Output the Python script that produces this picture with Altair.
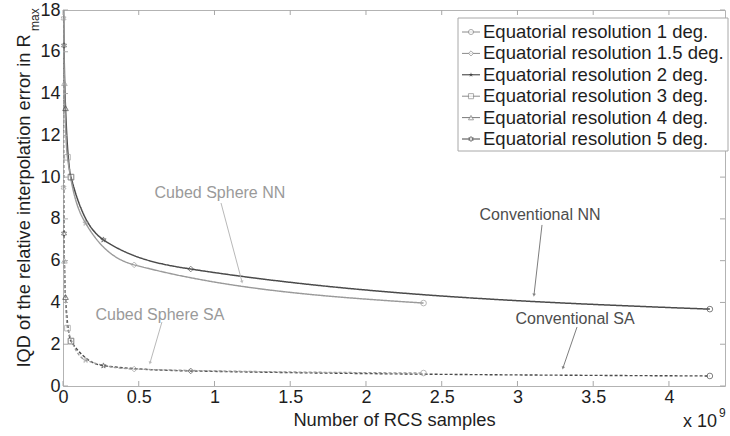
import math
import altair as alt
import pandas as pd

# ---------------- data ----------------
res_labels = ["1", "1.5", "2", "3", "4", "5"]              # equatorial resolution, deg
conv_samples = [4.27, 0.843, 0.267, 0.0527, 0.0167, 0.0068]   # x 10^9
cubed_samples = [2.38, 0.47, 0.149, 0.0294, 0.0093, 0.0038]   # x 10^9
conv_nn = [3.68, 5.60, 7.00, 10.00, 13.30, 16.30]
cubed_nn = [3.97, 5.80, 7.80, 10.95, 14.50, 17.60]
conv_sa = [0.48, 0.72, 0.97, 2.15, 4.26, 7.30]
cubed_sa = [0.62, 0.81, 1.24, 2.77, 6.00, 9.50]

series_names = ["Conventional NN", "Cubed Sphere NN", "Conventional SA", "Cubed Sphere SA"]
# where each curve leaves the top of the frame (y = 18)
top_exit_x = [0.004, 0.003, 0.0015, 0.001]
top_y = 18

x_ticks = [0, 0.5, 1, 1.5, 2, 2.5, 3, 3.5, 4]
y_ticks = [0, 2, 4, 6, 8, 10, 12, 14, 16, 18]

annot_text = ["Conventional NN", "Cubed Sphere NN", "Cubed Sphere SA", "Conventional SA"]
annot_x = [3.149, 1.036, 0.640, 3.380]
annot_y = [8.19, 9.24, 3.40, 3.21]
arrow_x1 = [3.162, 1.043, 0.653, 3.393]
arrow_y1 = [7.71, 8.76, 3.06, 2.82]
arrow_x2 = [3.109, 1.182, 0.574, 3.300]
arrow_y2 = [4.35, 4.98, 1.10, 0.86]

leg_labels = [f"Equatorial resolution {r} deg." for r in res_labels]

# ---------------- styles ----------------
F = "Liberation Sans"
W, H = 662, 376
X_MAX = 4.37
series_colors = ["#4a4a4a", "#9a9a9a", "#4a4a4a", "#9a9a9a"]
series_dash = [[1, 0], [1, 0], [3, 2], [3, 2]]
series_width = [1.5, 1.3, 1.4, 1.3]
annot_colors = ["#4d4d4d", "#9a9a9a", "#9a9a9a", "#4d4d4d"]
arrow_colors = ["#6e6e6e", "#b0b0b0", "#b0b0b0", "#6e6e6e"]

PENTAGRAM = ("M0,-1L0.2245,-0.309L0.951,-0.309L0.363,0.118L0.588,0.809L0,0.382"
             "L-0.588,0.809L-0.363,0.118L-0.951,-0.309L-0.2245,-0.309Z")
HEXAGRAM = ("M0,-1L0.289,-0.5L0.866,-0.5L0.577,0L0.866,0.5L0.289,0.5L0,1L-0.289,0.5"
            "L-0.866,0.5L-0.577,0L-0.866,-0.5L-0.289,-0.5Z")
shape_range = ["circle", "diamond", PENTAGRAM, "square", "triangle-up", HEXAGRAM]
leg_colors = ["#8a8a8a", "#8a8a8a", "#333333", "#8a8a8a", "#7a7a7a", "#444444"]
TXT = "#1e1e1e"

# ---------------- tables ----------------
xs_by_series = [conv_samples, cubed_samples, conv_samples, cubed_samples]
ys_by_series = [conv_nn, cubed_nn, conv_sa, cubed_sa]

pt_rows, line_rows = [], []
for s, xs_, ys_, tx in zip(series_names, xs_by_series, ys_by_series, top_exit_x):
    for r, xv, yv in zip(res_labels, xs_, ys_):
        pt_rows.append({"series": s, "res": r, "x": xv, "y": yv})
        line_rows.append({"series": s, "x": xv, "y": yv})
    line_rows.append({"series": s, "x": tx, "y": top_y})
pt_df = pd.DataFrame(pt_rows)
line_df = pd.DataFrame(line_rows)

xsc = alt.Scale(domain=[0, X_MAX], nice=False, zero=False)
ysc = alt.Scale(domain=[0, 18], nice=False, zero=False)
stroke_sc = alt.Scale(domain=series_names, range=series_colors)

x_axis = alt.Axis(values=x_ticks, labelExpr="'' + datum.value", ticks=False, domain=False,
                  grid=False, labelFont=F, labelFontSize=18, labelColor=TXT,
                  labelPadding=2, labelFlush=False, labelOverlap=False, labelBound=False,
                  title="Number of RCS samples", titleFont=F, titleFontSize=18.3,
                  titleFontWeight="normal", titleColor=TXT,
                  titleBaseline="alphabetic", titleY=39)
y_axis = alt.Axis(values=y_ticks, format="d", ticks=False, domain=False, grid=False,
                  labelFont=F, labelFontSize=18, labelColor=TXT, labelPadding=3,
                  labelOverlap=False, labelBound=False,
                  title="IQD of the relative interpolation error in R", titleFont=F,
                  titleFontSize=18.3, titleFontWeight="normal", titleColor=TXT,
                  titleAngle=270, titleAlign="left", titleBaseline="alphabetic",
                  titleX=-34, titleY=357)


def X(field):
    return alt.X(field, scale=xsc, axis=x_axis)


def Y(field):
    return alt.Y(field, scale=ysc, axis=y_axis)


lines = alt.Chart(line_df).mark_line(interpolate="monotone", clip=True).encode(
    x=X("x:Q"), y=Y("y:Q"),
    stroke=alt.Stroke("series:N", scale=stroke_sc, legend=None),
    strokeDash=alt.StrokeDash("series:N", scale=alt.Scale(domain=series_names, range=series_dash), legend=None),
    strokeWidth=alt.StrokeWidth("series:N", scale=alt.Scale(domain=series_names, range=series_width), legend=None),
)

points = alt.Chart(pt_df).mark_point(filled=False, size=32, strokeWidth=1).encode(
    x=X("x:Q"), y=Y("y:Q"),
    stroke=alt.Stroke("series:N", scale=stroke_sc, legend=None),
    shape=alt.Shape("res:N", scale=alt.Scale(domain=res_labels, range=shape_range), legend=None),
)

TICK_C = "#a8a8a8"
xt = pd.DataFrame({"v": x_ticks})
yt = pd.DataFrame({"v": y_ticks})
tick_layers = [
    alt.Chart(xt).mark_rule(color=TICK_C).encode(x=X("v:Q"), y=alt.value(H - 5), y2=alt.value(H)),
    alt.Chart(xt).mark_rule(color=TICK_C).encode(x=X("v:Q"), y=alt.value(0), y2=alt.value(5)),
    alt.Chart(yt).mark_rule(color=TICK_C).encode(y=Y("v:Q"), x=alt.value(0), x2=alt.value(5)),
    alt.Chart(yt).mark_rule(color=TICK_C).encode(y=Y("v:Q"), x=alt.value(W - 5), x2=alt.value(W)),
]

# annotations with arrows
px_x, px_y = W / X_MAX, H / 18
annot_layers = []
for i, t in enumerate(annot_text):
    d = pd.DataFrame({"t": [t], "x": [annot_x[i]], "y": [annot_y[i]],
                      "x1": [arrow_x1[i]], "y1": [arrow_y1[i]],
                      "x2": [arrow_x2[i]], "y2": [arrow_y2[i]]})
    dx = (arrow_x2[i] - arrow_x1[i]) * px_x
    dy = -(arrow_y2[i] - arrow_y1[i]) * px_y
    d["ang"] = (math.degrees(math.atan2(-dx, dy)) + 360) % 360
    annot_layers.append(alt.Chart(d).mark_text(font=F, fontSize=16, color=annot_colors[i],
                                               align="center", baseline="middle").encode(
        x=X("x:Q"), y=Y("y:Q"), text="t:N"))
    annot_layers.append(alt.Chart(d).mark_rule(color=arrow_colors[i], strokeWidth=0.9).encode(
        x=X("x1:Q"), y=Y("y1:Q"), x2="x2:Q", y2="y2:Q"))
    annot_layers.append(alt.Chart(d).mark_point(shape="triangle-down", filled=True, size=14,
                                                color=arrow_colors[i]).encode(
        x=X("x2:Q"), y=Y("y2:Q"), angle=alt.Angle("ang:Q", scale=None)))

# legend (MATLAB style box inside the axes)
LEG_X0, LEG_X1, LEG_Y0, LEG_Y1 = 395, 665, 8, 141
ROW0, ROW_STEP = 22, 21.4
legend_layers = [alt.Chart(pd.DataFrame({"a": [0]})).mark_rect(fill="white", stroke="#a8a8a8", strokeWidth=1).encode(
    x=alt.value(LEG_X0), x2=alt.value(LEG_X1), y=alt.value(LEG_Y0), y2=alt.value(LEG_Y1))]
for i, lab in enumerate(leg_labels):
    d = pd.DataFrame({"label": [lab]})
    yy = ROW0 + i * ROW_STEP
    legend_layers.append(alt.Chart(d).mark_rule(color=leg_colors[i], strokeWidth=1).encode(
        x=alt.value(399), x2=alt.value(417), y=alt.value(yy)))
    legend_layers.append(alt.Chart(d).mark_point(shape=shape_range[i], filled=(i == 2), size=26,
                                                 strokeWidth=1, color=leg_colors[i],
                                                 fill=("#333333" if i == 2 else "white")).encode(
        x=alt.value(408), y=alt.value(yy)))
    legend_layers.append(alt.Chart(d).mark_text(font=F, fontSize=18.5, color=TXT, align="left",
                                                baseline="middle").encode(
        x=alt.value(420), y=alt.value(yy), text="label:N"))

# subscript of R_max and the x 10^9 multiplier
extra = [
    alt.Chart(pd.DataFrame({"t": ["max"]})).mark_text(font=F, fontSize=12, color=TXT, angle=270,
                                                     align="left", baseline="alphabetic").encode(
        x=alt.value(-24.5), y=alt.value(21), text="t:N"),
    alt.Chart(pd.DataFrame({"t": ["x 10"]})).mark_text(font=F, fontSize=18, color=TXT,
                                                      align="left", baseline="alphabetic").encode(
        x=alt.value(620), y=alt.value(417), text="t:N"),
    alt.Chart(pd.DataFrame({"t": ["9"]})).mark_text(font=F, fontSize=12, color=TXT,
                                                   align="left", baseline="alphabetic").encode(
        x=alt.value(656), y=alt.value(407), text="t:N"),
]

chart = alt.layer(lines, points, *tick_layers, *annot_layers, *legend_layers, *extra).properties(
    width=W, height=H,
    padding={"left": 63, "top": 10, "right": 5, "bottom": 50},
    autosize=alt.AutoSizeParams(type="none"),
    background="white",
).configure_view(stroke="#b3b3b3", strokeWidth=1)

chart.save("out.html", embed_options={"renderer": "svg", "actions": False})
